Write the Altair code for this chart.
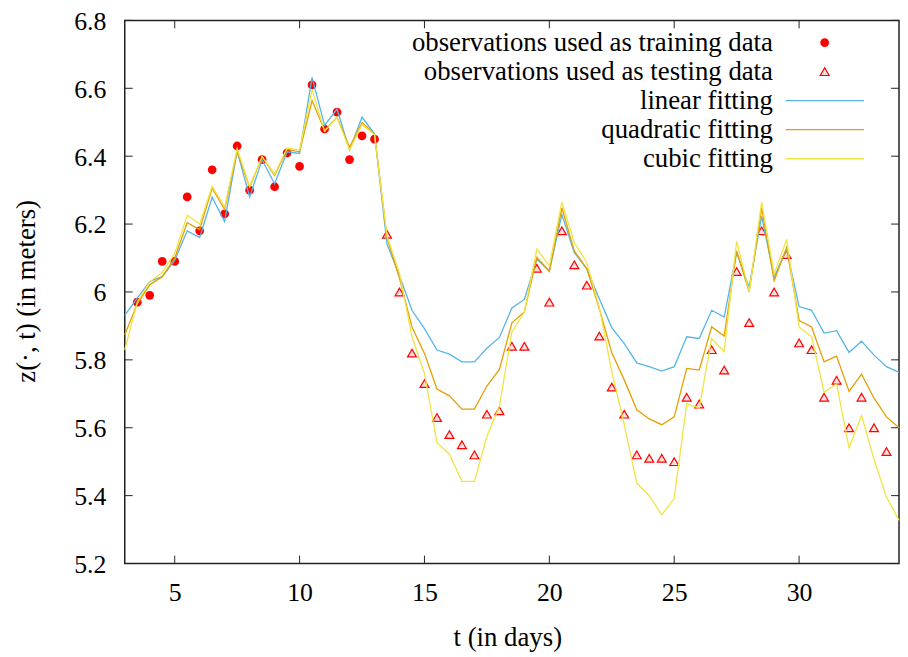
import altair as alt
import pandas as pd

# ---------------- data ----------------
t_train = [3.5, 4, 4.5, 5, 5.5, 6, 6.5, 7, 7.5, 8, 8.5, 9, 9.5, 10,
           10.5, 11, 11.5, 12, 12.5, 13]
z_train = [5.97, 5.99, 6.09, 6.09, 6.28, 6.18, 6.36, 6.23, 6.43, 6.30,
           6.39, 6.31, 6.41, 6.37, 6.61, 6.48, 6.53, 6.39, 6.46, 6.45]

t_test = [13.5, 14, 14.5, 15, 15.5, 16, 16.5, 17, 17.5, 18, 18.5, 19,
          19.5, 20, 20.5, 21, 21.5, 22, 22.5, 23, 23.5, 24, 24.5, 25,
          25.5, 26, 26.5, 27, 27.5, 28, 28.5, 29, 29.5, 30, 30.5, 31,
          31.5, 32, 32.5, 33, 33.5]
z_test = [6.17, 6.00, 5.82, 5.73, 5.63, 5.58, 5.55, 5.52, 5.64, 5.65,
          5.84, 5.84, 6.07, 5.97, 6.18, 6.08, 6.02, 5.87, 5.72, 5.64,
          5.52, 5.51, 5.51, 5.50, 5.69, 5.67, 5.83, 5.77, 6.06, 5.91,
          6.18, 6.00, 6.11, 5.85, 5.83, 5.69, 5.74, 5.60, 5.69, 5.60,
          5.53]

t_fit = [3, 3.5, 4, 4.5, 5, 5.5, 6, 6.5, 7, 7.5, 8, 8.5, 9, 9.5, 10,
         10.5, 11, 11.5, 12, 12.5, 13, 13.5, 14, 14.5, 15, 15.5, 16,
         16.5, 17, 17.5, 18, 18.5, 19, 19.5, 20, 20.5, 21, 21.5, 22,
         22.5, 23, 23.5, 24, 24.5, 25, 25.5, 26, 26.5, 27, 27.5, 28,
         28.5, 29, 29.5, 30, 30.5, 31, 31.5, 32, 32.5, 33, 33.5, 34]
z_linear = [5.931, 5.982, 6.031, 6.045, 6.093, 6.180, 6.160, 6.279, 6.207,
            6.415, 6.280, 6.389, 6.319, 6.413, 6.408, 6.632, 6.491, 6.539,
            6.418, 6.515, 6.466, 6.141, 6.048, 5.946, 5.892, 5.829, 5.817,
            5.794, 5.794, 5.834, 5.866, 5.953, 5.978, 6.097, 6.061, 6.228,
            6.116, 6.068, 5.980, 5.895, 5.848, 5.791, 5.780, 5.767, 5.780,
            5.868, 5.863, 5.946, 5.926, 6.116, 6.014, 6.223, 6.043, 6.126,
            5.957, 5.946, 5.879, 5.886, 5.822, 5.855, 5.814, 5.780, 5.763]
z_quadratic = [5.873, 5.965, 6.021, 6.045, 6.100, 6.204, 6.184, 6.306,
               6.243, 6.415, 6.308, 6.399, 6.343, 6.420, 6.413, 6.564,
               6.476, 6.515, 6.426, 6.499, 6.466, 6.160, 6.040, 5.897,
               5.819, 5.714, 5.694, 5.655, 5.655, 5.723, 5.772, 5.909,
               5.941, 6.102, 6.061, 6.248, 6.121, 6.068, 5.951, 5.821,
               5.741, 5.653, 5.626, 5.609, 5.632, 5.775, 5.770, 5.897,
               5.870, 6.121, 6.000, 6.248, 6.033, 6.131, 5.916, 5.897,
               5.794, 5.811, 5.707, 5.758, 5.687, 5.632, 5.600]
z_cubic = [5.829, 5.970, 6.030, 6.057, 6.113, 6.226, 6.200, 6.311, 6.250,
           6.423, 6.311, 6.399, 6.347, 6.424, 6.418, 6.596, 6.473, 6.515,
           6.418, 6.493, 6.463, 6.165, 6.055, 5.868, 5.760, 5.556, 5.522,
           5.442, 5.442, 5.575, 5.663, 5.882, 5.941, 6.126, 6.077, 6.265,
           6.145, 6.087, 5.955, 5.765, 5.609, 5.437, 5.400, 5.343, 5.392,
           5.671, 5.658, 5.863, 5.824, 6.150, 6.000, 6.265, 6.053, 6.155,
           5.897, 5.868, 5.705, 5.729, 5.541, 5.636, 5.507, 5.395, 5.327]

x_ticks = [5, 10, 15, 20, 25, 30]
y_ticks = [5.2, 5.4, 5.6, 5.8, 6.0, 6.2, 6.4, 6.6, 6.8]

legend_labels = ["observations used as training data",
                 "observations used as testing data",
                 "linear fitting",
                 "quadratic fitting",
                 "cubic fitting"]

# ---------------- styling ----------------
W, H = 781.2, 548.0
FONT = "Liberation Serif, DejaVu Serif, Times New Roman, serif"
FS = 27      # legend and axis titles
FS_TICK = 26
FRAME = "#222222"
C_LIN, C_QUAD, C_CUB = "#56b4e9", "#e69f00", "#f0e442"
TICK = 8

xscale = alt.Scale(domain=[3, 34], nice=False, zero=False)
yscale = alt.Scale(domain=[5.2, 6.8], nice=False, zero=False)

xaxis = alt.Axis(values=x_ticks, format="d", title="t (in days)", grid=False,
                 ticks=False, tickSize=0, domain=False, labelFont=FONT,
                 labelFontSize=FS_TICK, labelColor="black", labelPadding=37,
                 labelBaseline="alphabetic", titleFont=FONT, titleFontSize=FS,
                 titleFontWeight="normal", titleColor="black", titleX=386,
                 titleY=82.3, titleBaseline="alphabetic", titleAlign="center")
yaxis = alt.Axis(values=y_ticks, format=".1~f", title="z(·, t) (in meters)",
                 grid=False, ticks=False, tickSize=0, domain=False,
                 labelFont=FONT, labelFontSize=FS_TICK, labelColor="black",
                 labelPadding=19, labelBaseline="middle", labelOffset=1,
                 titleFont=FONT, titleFontSize=FS, titleFontWeight="normal",
                 titleColor="black", titleAngle=270, titleX=-90.8,
                 titleY=272.9, titleBaseline="alphabetic", titleAlign="center")

X = alt.X("t:Q", scale=xscale, axis=xaxis)
Y = alt.Y("z:Q", scale=yscale, axis=yaxis)

train_df = pd.DataFrame({"t": t_train, "z": z_train})
test_df = pd.DataFrame({"t": t_test, "z": z_test})
lin_df = pd.DataFrame({"t": t_fit, "z": z_linear})
quad_df = pd.DataFrame({"t": t_fit, "z": z_quadratic})
cub_df = pd.DataFrame({"t": t_fit, "z": z_cubic})
xt_df = pd.DataFrame({"t": x_ticks})
yt_df = pd.DataFrame({"z": y_ticks})

layers = []

# tick marks (inward, mirrored on all four sides)
layers.append(alt.Chart(xt_df).mark_rule(color=FRAME, strokeWidth=1).encode(
    x=X, y=alt.value(H), y2=alt.value(H - TICK)))
layers.append(alt.Chart(xt_df).mark_rule(color=FRAME, strokeWidth=1).encode(
    x=X, y=alt.value(0), y2=alt.value(TICK)))
layers.append(alt.Chart(yt_df).mark_rule(color=FRAME, strokeWidth=1).encode(
    y=Y, x=alt.value(0), x2=alt.value(TICK)))
layers.append(alt.Chart(yt_df).mark_rule(color=FRAME, strokeWidth=1).encode(
    y=Y, x=alt.value(W - TICK), x2=alt.value(W)))

# observations
layers.append(alt.Chart(train_df).mark_point(
    shape="circle", filled=True, color="#ff0000", size=78, opacity=1,
    strokeWidth=0).encode(x=X, y=Y))
layers.append(alt.Chart(test_df).mark_point(
    shape="triangle-up", filled=True, fill="#ffdede", stroke="#ff0000",
    strokeWidth=1.2, size=80, opacity=1).encode(x=X, y=Y))

# fitted curves
for df, col in [(lin_df, C_LIN), (quad_df, C_QUAD), (cub_df, C_CUB)]:
    layers.append(alt.Chart(df).mark_line(color=col, strokeWidth=1.3).encode(
        x=X, y=Y))

# legend (top right, labels left of samples)
LX_TEXT, LX_SYM, LX0, LX1 = 654.0, 706.2, 666.9, 745.9
LY0, LDY = 22.4, 29.3
for i, lab in enumerate(legend_labels):
    yy = LY0 + LDY * i
    ld = pd.DataFrame({"label": [lab]})
    layers.append(alt.Chart(ld).mark_text(
        align="right", baseline="middle", font=FONT, fontSize=FS,
        color="black").encode(x=alt.value(LX_TEXT), y=alt.value(yy),
                              text="label:N"))
    if i == 0:
        layers.append(alt.Chart(ld).mark_point(
            shape="circle", filled=True, color="#ff0000", size=78, opacity=1,
            strokeWidth=0).encode(x=alt.value(LX_SYM), y=alt.value(yy)))
    elif i == 1:
        layers.append(alt.Chart(ld).mark_point(
            shape="triangle-up", filled=True, fill="#ffdede", stroke="#ff0000",
            strokeWidth=1.2, size=80, opacity=1).encode(
                x=alt.value(LX_SYM), y=alt.value(yy)))
    else:
        col = [C_LIN, C_QUAD, C_CUB][i - 2]
        layers.append(alt.Chart(ld).mark_rule(color=col, strokeWidth=1.3).encode(
            x=alt.value(LX0), x2=alt.value(LX1), y=alt.value(yy)))

chart = alt.layer(*layers).properties(
    width=W, height=H,
    autosize=alt.AutoSizeParams(type="none"),
    padding={"left": 117.8, "top": 9.6, "right": 1, "bottom": 91.4},
    background="white",
).configure_view(stroke=FRAME, strokeWidth=1.5)

chart.save("out.html", embed_options={"renderer": "svg", "actions": False})
